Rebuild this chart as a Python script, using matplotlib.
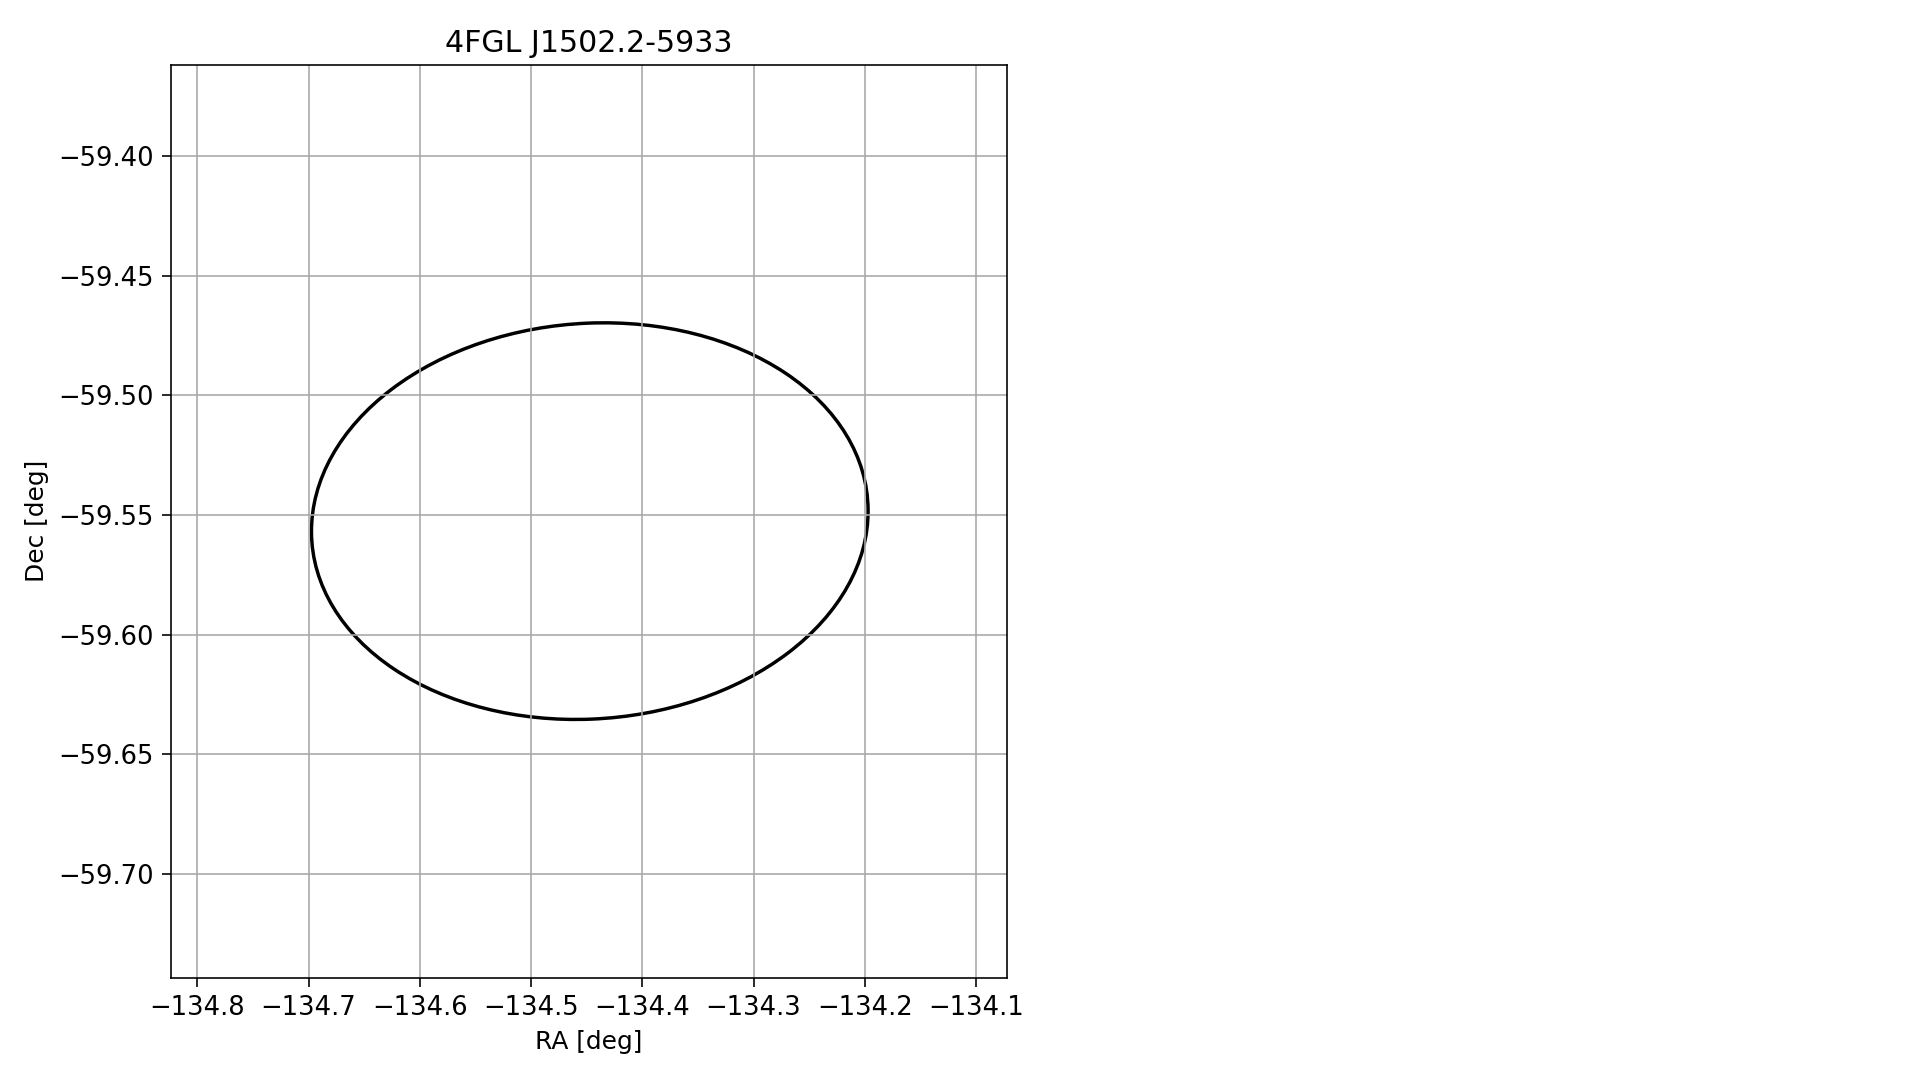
import numpy as np
import matplotlib
matplotlib.use("Agg")
import matplotlib.pyplot as plt
from matplotlib.patches import Ellipse

# source and error ellipse
source_name = "4FGL J1502.2-5933"
center_ra = -134.4472
center_dec = -59.5526
ellipse_width = 0.5004    # deg, along RA
ellipse_height = 0.1655   # deg, along Dec
ellipse_angle = 1.09      # deg

ra_ticks = [-134.8, -134.7, -134.6, -134.5, -134.4, -134.3, -134.2, -134.1]
dec_ticks = [-59.40, -59.45, -59.50, -59.55, -59.60, -59.65, -59.70]
ra_lim = (-134.8239, -134.0719)
dec_lim = (-59.7434, -59.3620)

fig = plt.figure(figsize=(1919 / 130, 1080 / 130), dpi=130)
ax = fig.add_axes([0.08895, 0.0947, 0.43597, 0.8451])

ell = Ellipse((center_ra, center_dec), ellipse_width, ellipse_height,
              angle=ellipse_angle, fill=False, edgecolor='k', lw=1.9)
ax.add_patch(ell)

ax.set_xlim(*ra_lim)
ax.set_ylim(*dec_lim)
ax.set_xticks(ra_ticks)
ax.set_yticks(dec_ticks)
ax.grid(True, lw=0.9, color='#a8a8a8')
for s in ax.spines.values():
    s.set_linewidth(0.9)
ax.tick_params(labelsize=14.3, length=5, width=0.9, pad=4.5)
ax.set_xlabel("RA [deg]", fontsize=13.8, labelpad=5)
ax.set_ylabel("Dec [deg]", fontsize=13.8, labelpad=5)
ax.set_title(source_name, fontsize=16.6, pad=7)

fig.savefig("out.png", dpi=130)
